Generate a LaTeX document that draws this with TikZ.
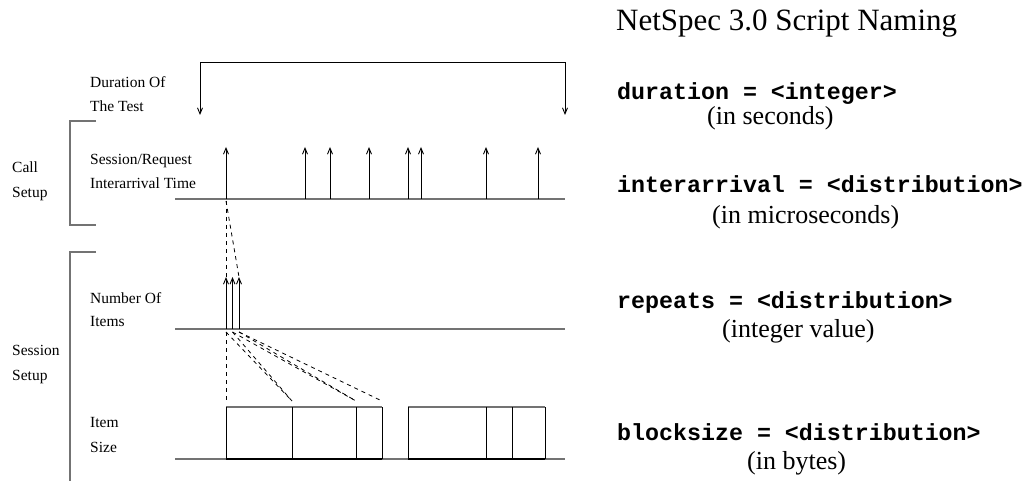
\documentclass[tikz,border=0pt]{standalone}
\usepackage{fontspec}
\setmainfont{Liberation Serif}
\setmonofont{Liberation Mono}
\usetikzlibrary{arrows.meta}
\begin{document}
\begin{tikzpicture}[x=1pt,y=-1pt,
  tl/.style={draw=black!55, line width=1.4pt},
  brk/.style={draw=black!55, line width=1.2pt},
  blk/.style={draw=black, line width=0.9pt},
  arr/.style={draw=black, line width=0.9pt, -{Straight Barb[length=6pt,width=5pt]}},
  dsh/.style={draw=black, line width=0.8pt, dash pattern=on 4pt off 4pt},
  lbl/.style={font=\fontsize{15.5}{18}\selectfont, anchor=base west, inner sep=0pt},
  title/.style={font=\fontsize{31}{36}\selectfont, anchor=base west, inner sep=0pt},
  code/.style={font=\fontsize{23.3}{26}\selectfont\ttfamily\bfseries, anchor=base west, inner sep=0pt},
  note/.style={font=\fontsize{26}{30}\selectfont, anchor=base west, inner sep=0pt}]
\useasboundingbox (0,0) rectangle (1025,481);

% left labels
\node[lbl] (dur1) at (90,88) {Duration Of};
\node[lbl] (dur2) at (90,112) {The Test};
\node[lbl] (call1) at (12,173) {Call};
\node[lbl] (call2) at (12,197) {Setup};
\node[lbl] (sr1) at (90,165) {Session/Request};
\node[lbl] (sr2) at (90,189) {Interarrival Time};
\node[lbl] (ses1) at (12,355) {Session};
\node[lbl] (ses2) at (12,380) {Setup};
\node[lbl] (noi1) at (90,303) {Number Of};
\node[lbl] (noi2) at (90,326) {Items};
\node[lbl] (is1) at (90,427) {Item};
\node[lbl] (is2) at (90,452) {Size};

% right column
\node[title] (ttl) at (616,31) {NetSpec 3.0 Script Naming};
\node[code] (c1) at (617,100) {duration = <integer>};
\node[note] (n1) at (707,125) {(in seconds)};
\node[code] (c2) at (617,193) {interarrival = <distribution>};
\node[note] (n2) at (712,223) {(in microseconds)};
\node[code] (c3) at (617,308) {repeats = <distribution>};
\node[note] (n3) at (722,337) {(integer value)};
\node[code] (c4) at (617,440) {blocksize = <distribution>};
\node[note] (n4) at (747,469) {(in bytes)};

% duration bracket
\coordinate (dL) at (200,115);
\coordinate (dR) at (565,115);
\draw[blk, {Straight Barb[length=6pt,width=5pt]}-{Straight Barb[length=6pt,width=5pt]}] (dL) -- (200,62) -- (565,62) -- (dR);

% setup brackets
\draw[brk] (96,121) -- (70,121) -- (70,225) -- (96,225);
\draw[brk] (96,252) -- (70,252) -- (70,481);

% timelines
\coordinate (t1a) at (175,199); \coordinate (t1b) at (565,199);
\coordinate (t2a) at (175,329); \coordinate (t2b) at (565,329);
\coordinate (t3a) at (175,459); \coordinate (t3b) at (565,459);
\draw[tl] (t1a) -- (t1b);
\draw[tl] (t2a) -- (t2b);
\draw[tl] (t3a) -- (t3b);

% arrivals on first timeline
\foreach \x/\n in {226/a1,305/a2,330/a3,369/a4,408/a5,421/a6,486/a7,538/a8}{
  \coordinate (\n b) at (\x,199);
  \coordinate (\n t) at (\x,147);
  \draw[arr] (\n b) -- (\n t);
}

% items on second timeline
\foreach \x/\n in {226/i1,232.5/i2,239/i3}{
  \coordinate (\n b) at (\x,329);
  \coordinate (\n t) at (\x,277);
  \draw[arr] (\n b) -- (\n t);
}

% dashed mapping first -> second
\coordinate (m1) at (226,201);
\draw[dsh] (m1) -- (i1t);
\draw[dsh] (m1) -- (i3t);

% boxes
\coordinate (b1) at (226,407); \coordinate (b2) at (292,407);
\coordinate (b3) at (356,407); \coordinate (b4) at (382,407);
\coordinate (b5) at (408,407); \coordinate (b6) at (486,407);
\coordinate (b7) at (512,407); \coordinate (b8) at (545,407);
\draw[tl] (b1) -- (b4);
\draw[tl] (b5) -- (b8);
\draw[draw=black, line width=1.6pt] (226,459) -- (382,459);
\draw[draw=black, line width=1.6pt] (408,459) -- (545,459);
\foreach \n in {b1,b2,b3,b4,b5,b6,b7,b8}{
  \draw[blk] (\n) -- ++(0,52);
}

% dashed mapping second -> boxes
\coordinate (s1) at (226,332);
\coordinate (s2) at (232.5,332);
\coordinate (s3) at (239,332);
\coordinate (e1) at (226,403);
\coordinate (e2) at (292,401);
\coordinate (e3) at (356,401);
\coordinate (e4) at (382,401);
\draw[dsh] (s1) -- (e1);
\draw[dsh] (s1) -- (e2);
\draw[dsh] (s2) -- (e2);
\draw[dsh] (s2) -- (e3);
\draw[dsh] (s3) -- (e3);
\draw[dsh] (s3) -- (e4);
\end{tikzpicture}
\end{document}
